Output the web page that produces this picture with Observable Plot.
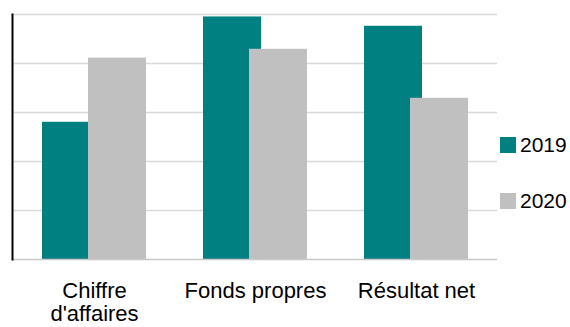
<!DOCTYPE html>
<html>
<head>
<meta charset="utf-8">
<script src="https://cdn.jsdelivr.net/npm/d3@7"></script>
<script src="https://cdn.jsdelivr.net/npm/@observablehq/plot@0.6"></script>
<style>
  html, body { margin: 0; padding: 0; background: #fff; }
  #wrap { position: relative; width: 570px; height: 327px; font-family: "Liberation Sans", Arial, sans-serif; }
  .leg { position: absolute; left: 500px; display: flex; align-items: center; font-size: 21px; line-height: 21px; color: #000; }
  .sw { width: 16px; height: 16px; margin-right: 4px; }
</style>
</head>
<body>
<div id="wrap"></div>
<script>
const categories = ["Chiffre d'affaires", "Fonds propres", "Résultat net"];
const tickLabels = ["Chiffre\nd'affaires", "Fonds propres", "Résultat net"];
const series = ["2019", "2020"];
const values2019 = [2.80, 4.95, 4.76];
const values2020 = [4.11, 4.29, 3.29];
const colors = ["#008080", "#c0c0c0"];
const gridValues = [1, 2, 3, 4, 5];

const d2019 = categories.map((c, i) => ({category: c, value: values2019[i]}));
const d2020 = categories.map((c, i) => ({category: c, value: values2020[i]}));

const chart = Plot.plot({
  width: 570,
  height: 327,
  marginLeft: 12,
  marginRight: 73,
  marginTop: 14,
  marginBottom: 68,
  style: {fontFamily: "'Liberation Sans', Arial, sans-serif", background: "#fff"},
  x: {domain: categories, paddingInner: 0.357, paddingOuter: 0.1785, align: 0.5},
  y: {domain: [0, 5], axis: null},
  marks: [
    Plot.ruleY(gridValues, {stroke: "#d9d9d9", strokeWidth: 1.5}),
    Plot.barY(d2019, {x: "category", y: "value", fill: colors[0], insetLeft: 0, insetRight: 46}),
    Plot.barY(d2020, {x: "category", y: "value", fill: colors[1], insetLeft: 46, insetRight: 0}),
    Plot.ruleY([0], {stroke: "#c8c8c8", strokeWidth: 1.5}),
    Plot.frame({anchor: "left", stroke: "#000", strokeWidth: 2}),
    Plot.axisX({
      tickSize: 0,
      tickPadding: 22,
      fontSize: 22,
      lineHeight: 1.05,
      label: null,
      tickFormat: (d) => tickLabels[categories.indexOf(d)],
      fill: "#000"
    })
  ]
});

const wrap = document.getElementById("wrap");
wrap.appendChild(chart);

const legendTops = [134, 190];
series.forEach((s, i) => {
  const el = document.createElement("div");
  el.className = "leg";
  el.style.top = legendTops[i] + "px";
  el.innerHTML = `<span class="sw" style="background:${colors[i]}"></span><span>${s}</span>`;
  wrap.appendChild(el);
});
</script>
</body>
</html>
